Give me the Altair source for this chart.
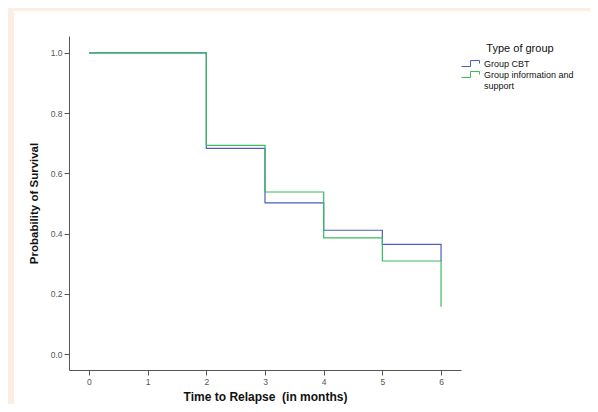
import altair as alt
import pandas as pd

times = [0, 2, 3, 4, 5, 6]
cbt_surv = [1.0, 0.683, 0.502, 0.411, 0.364, 0.309]
info_surv = [1.0, 0.693, 0.538, 0.386, 0.309, 0.157]
groups = ["Group CBT", "Group information and support"]
x_ticks = [0, 1, 2, 3, 4, 5, 6]
y_ticks = [0.0, 0.2, 0.4, 0.6, 0.8, 1.0]

rows = []
for t, s in zip(times, cbt_surv):
    rows.append({"time": t, "surv": s, "group": groups[0]})
for t, s in zip(times, info_surv):
    rows.append({"time": t, "surv": s, "group": groups[1]})
df = pd.DataFrame(rows)

panel = alt.Chart(pd.DataFrame({"a": [0]})).mark_rect(fill="white").encode(
    x=alt.value(-55), x2=alt.value(525), y=alt.value(-25), y2=alt.value(372)
)

lines = alt.Chart(df).mark_line(interpolate="step-after", strokeWidth=1.2).encode(
    x=alt.X("time:Q",
            scale=alt.Scale(domain=[-0.34, 6.34], nice=False, zero=False),
            axis=alt.Axis(values=x_ticks, format="d", title="Time to Relapse \u00a0(in months)",
                          titleFontSize=12, titleFontWeight="bold", titlePadding=6,
                          labelFontSize=8.5, labelColor="#555", tickSize=5, labelPadding=2,
                          zindex=2)),
    y=alt.Y("surv:Q",
            scale=alt.Scale(domain=[-0.053, 1.056], nice=False, zero=False),
            axis=alt.Axis(values=y_ticks, format=".1f", title="Probability of Survival",
                          titleFontSize=11.5, titleFontWeight="bold", titlePadding=11,
                          labelFontSize=8.5, labelColor="#555", tickSize=5, labelPadding=2,
                          zindex=2)),
    color=alt.Color("group:N",
                    scale=alt.Scale(domain=groups, range=["#4d5dc0", "#3cba5c"]),
                    legend=alt.Legend(
                        title="Type of group", orient="none", legendX=397, legendY=7,
                        titleFontSize=11, titleFontWeight="normal", titleColor="#111",
                        titleAnchor="middle", titlePadding=4,
                        labelFontSize=9, labelColor="#111", labelOffset=7, labelLimit=200,
                        labelExpr="datum.label == 'Group information and support' ? ['Group information and', 'support'] : datum.label",
                        symbolType="M-2,0.6H-0.2V-0.6H1.6V0", symbolSize=100,
                        symbolStrokeWidth=1, symbolFillColor="transparent", rowPadding=0,
                    )),
)

chart = alt.layer(panel, lines).properties(
    width=392, height=334,
    autosize=alt.AutoSizeParams(type="none"),
    padding={"left": 61, "top": 28, "right": 129, "bottom": 34},
    background="#fdeee4",
).configure_view(stroke=None).configure_axis(
    domainColor="#555", tickColor="#555", grid=False, labelFont="Liberation Sans",
    titleFont="Liberation Sans", titleColor="#111",
).configure_legend(labelFont="Liberation Sans", titleFont="Liberation Sans")

chart.save("out.html", embed_options={"renderer": "svg", "actions": False})
